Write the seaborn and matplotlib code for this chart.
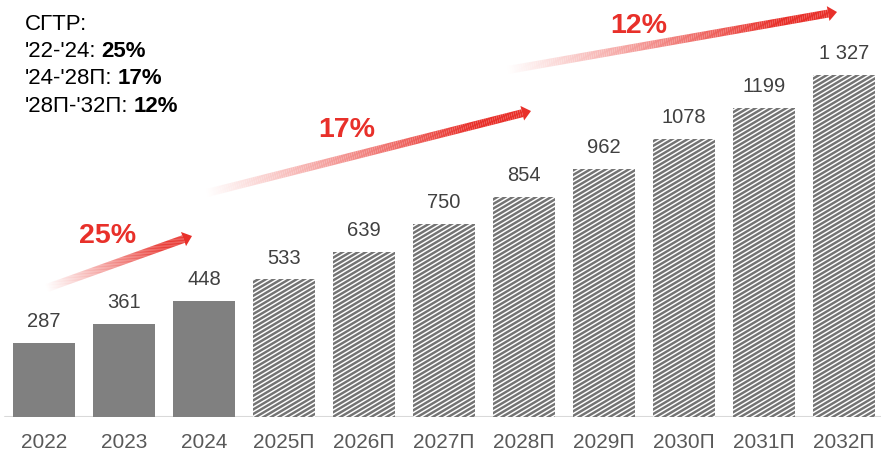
import numpy as np
import pandas as pd
import matplotlib
matplotlib.use("Agg")
import matplotlib.pyplot as plt
import seaborn as sns
from matplotlib import hatch as mhatch
from matplotlib.path import Path
from matplotlib.collections import LineCollection
from matplotlib.patches import Polygon

# ---- data ----
years = ["2022", "2023", "2024", "2025П", "2026П", "2027П", "2028П", "2029П", "2030П", "2031П", "2032П"]
values = [287, 361, 448, 533, 639, 750, 854, 962, 1078, 1199, 1327]
value_labels = ["287", "361", "448", "533", "639", "750", "854", "962", "1078", "1199", "1 327"]
is_forecast = [False, False, False, True, True, True, True, True, True, True, True]
cagr_title = "СГТР:"
cagr_periods = ["'22-'24:", "'24-'28П:", "'28П-'32П:"]
cagr_values = ["25%", "17%", "12%"]


# ---- shallow diagonal hatch (replaces the '/' pattern) ----
class ShallowNE(mhatch.HatchPatternBase):
    N_LINES = 22
    RISE = 13

    def __init__(self, hatch, density):
        c = hatch.count('/')
        n, m = self.N_LINES, self.RISE
        self.ks = list(range(-m - 1, n + 2)) if c else []
        self.num_lines = len(self.ks)
        self.num_vertices = self.num_lines * 2

    def set_vertices_and_codes(self, vertices, codes):
        n, m = self.N_LINES, self.RISE
        for i, k in enumerate(self.ks):
            y0 = k / n
            vertices[2 * i] = (0.0, y0)
            vertices[2 * i + 1] = (1.0, y0 + m / n)
            codes[2 * i] = Path.MOVETO
            codes[2 * i + 1] = Path.LINETO


mhatch._hatch_types = [ShallowNE if t is mhatch.NorthEastHatch else t for t in mhatch._hatch_types]

sns.set_theme(style="white")
plt.rcParams['font.family'] = ['Liberation Sans', 'DejaVu Sans']
plt.rcParams['hatch.linewidth'] = 1.75

W, H = 881, 454
fig = plt.figure(figsize=(W / 100, H / 100), dpi=100)
ax = fig.add_axes([0, 37 / H, 1, 1 - 37 / H])

df = pd.DataFrame({"year": years, "value": values})
sns.barplot(data=df, x="year", y="value", color="#808080", width=0.775,
            saturation=1, ax=ax, linewidth=0)

for patch, fc in zip(ax.patches, is_forecast):
    if fc:
        patch.set_facecolor("white")
        patch.set_edgecolor("#737373")
        patch.set_hatch("/")
        patch.set_linewidth(0)

ax.set_xlim(-0.55, (W - 44) / 80)
ax.set_ylim(0, 417 / 0.258)
for s in ax.spines.values():
    s.set_visible(False)
ax.set_yticks([])
ax.set_xlabel("")
ax.set_ylabel("")
ax.tick_params(axis="x", length=0, pad=11.5, labelsize=15, labelcolor="#595959")
ax.axhline(0, xmin=5 / W, xmax=1, color="#D9D9D9", lw=1.5, zorder=0)

for i, (v, lab) in enumerate(zip(values, value_labels)):
    ax.annotate(lab, xy=(i, v), xytext=(0, 11.5), textcoords="offset points",
                ha="center", va="baseline", fontsize=14.5, color="#404040")


# ---- helper in pixel coords (y from top) ----
def fx(x):
    return x / W


def fy(y):
    return 1 - y / H


red = np.array(matplotlib.colors.to_rgb("#E8302A"))


def grad_arrow(x0, y0, x1, y1, lw_px=8, head_w=15, head_l=9, n=150):
    dx, dy = x1 - x0, y1 - y0
    L = np.hypot(dx, dy)
    ux, uy = dx / L, dy / L
    bx, by = x1 - ux * head_l, y1 - uy * head_l
    ts = np.linspace(0, 1, n + 1)
    xs = x0 + (bx - x0) * ts
    ys = y0 + (by - y0) * ts
    segs = [[(fx(xs[k]), fy(ys[k])), (fx(xs[k + 1]), fy(ys[k + 1]))] for k in range(n)]
    cols = []
    for k in range(n):
        t = (ts[k] + ts[k + 1]) / 2
        a = min(1.0, t / 0.85)
        c = (1 - a) * np.ones(3) + a * red
        cols.append(tuple(c))
    lc = LineCollection(segs, colors=cols, linewidths=lw_px * 0.72,
                        transform=fig.transFigure, capstyle="butt")
    fig.add_artist(lc)
    px, py = -uy, ux
    tri = [(fx(x1), fy(y1)),
           (fx(bx + px * head_w / 2), fy(by + py * head_w / 2)),
           (fx(bx - px * head_w / 2), fy(by - py * head_w / 2))]
    fig.add_artist(Polygon(tri, closed=True, facecolor=tuple(red), edgecolor="none",
                           transform=fig.transFigure))


grad_arrow(47, 288, 192, 236)
grad_arrow(207, 193, 531, 111)
grad_arrow(508, 70, 837, 12)

for (x, y), t in zip([(108, 242.7), (347, 137.3), (639, 33.3)], cagr_values):
    fig.text(fx(x), fy(y), t, ha="center", va="baseline", fontsize=20.5,
             fontweight="bold", color="#E8302A")

# ---- CAGR text block ----
fig.text(fx(25), fy(30), cagr_title, ha="left", va="baseline", fontsize=16, color="black")
fig.canvas.draw()
renderer = fig.canvas.get_renderer()
for j, (p, v) in enumerate(zip(cagr_periods, cagr_values)):
    yb = 57 + j * 27.3
    t1 = fig.text(fx(25), fy(yb), p, ha="left", va="baseline", fontsize=16, color="black")
    bb = t1.get_window_extent(renderer)
    fig.text(bb.x1 / W + 5 / W, fy(yb), v, ha="left", va="baseline", fontsize=16,
             fontweight="bold", color="black")

fig.savefig("out.png", dpi=100)
